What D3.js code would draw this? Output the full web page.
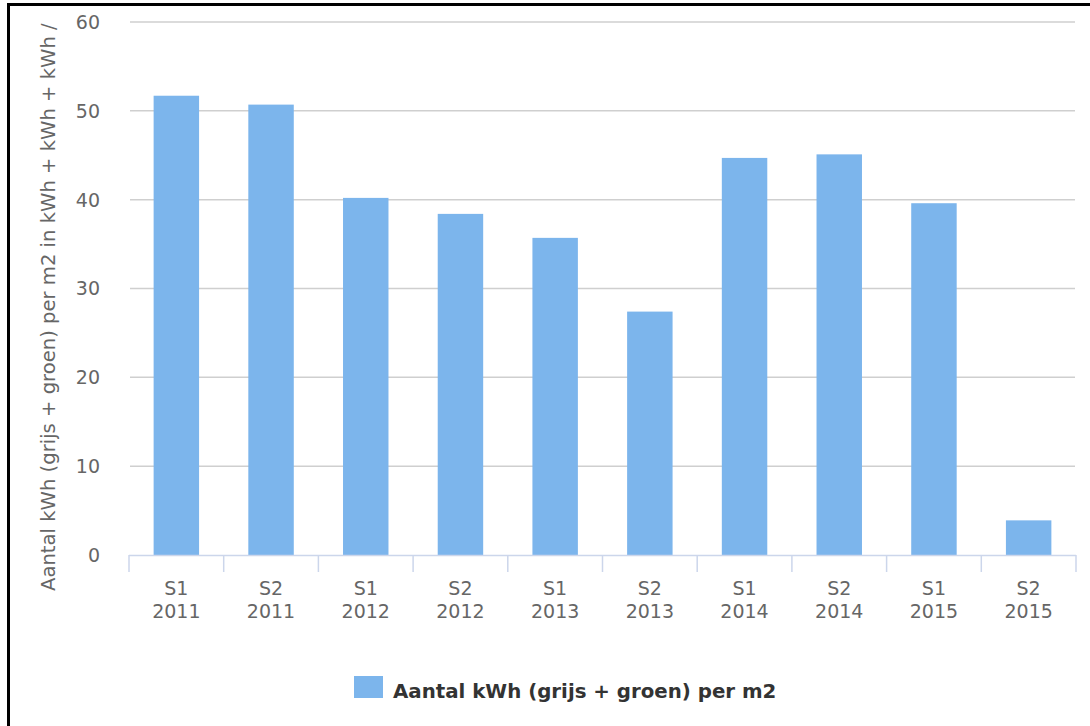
<!DOCTYPE html>
<html>
<head>
<meta charset="utf-8">
<script src="https://cdn.jsdelivr.net/npm/d3@7"></script>
<style>
  html, body { margin: 0; padding: 0; background: #fff; }
  svg { display: block; }
</style>
</head>
<body>
<div id="chart"></div>
<script>
// Half-year periods and energy use per m2
const semesters = ["S1", "S2", "S1", "S2", "S1", "S2", "S1", "S2", "S1", "S2"];
const years = ["2011", "2011", "2012", "2012", "2013", "2013", "2014", "2014", "2015", "2015"];
const kwhPerM2 = [51.7, 50.7, 40.2, 38.4, 35.7, 27.4, 44.7, 45.1, 39.6, 3.9];
const yTicks = [0, 10, 20, 30, 40, 50, 60];
const seriesName = "Aantal kWh (grijs + groen) per m2";
const yTitle = "Aantal kWh (grijs + groen) per m2 in kWh + kWh + kWh /";

const W = 1090, H = 726;
const plot = { left: 129, right: 1076, top: 22, bottom: 555 };
const font = "'DejaVu Sans', Verdana, sans-serif";

const svg = d3.select("#chart").append("svg")
  .attr("width", W).attr("height", H);

const keys = d3.range(kwhPerM2.length);
const x = d3.scaleBand().domain(keys).range([plot.left, plot.right]).padding(0);
const y = d3.scaleLinear().domain([0, 60]).range([plot.bottom, plot.top]);

// Horizontal grid
svg.append("g")
  .selectAll("line")
  .data(yTicks.filter(t => t > 0))
  .join("line")
  .attr("x1", plot.left + 1).attr("x2", plot.right - 1)
  .attr("y1", d => y(d)).attr("y2", d => y(d))
  .attr("stroke", "#cfcfcf").attr("stroke-width", 1.5);

// Y axis labels (no axis line)
const yAxis = d3.axisLeft(y).tickValues(yTicks).tickSize(0).tickPadding(0);
const yg = svg.append("g").attr("transform", `translate(${plot.left - 29},0)`).call(yAxis);
yg.select(".domain").remove();
yg.selectAll("text")
  .attr("font-family", font).attr("font-size", 19).attr("fill", "#666")
  .attr("dy", "0.34em");

// Bars
const barW = x.bandwidth() * 0.48;
svg.append("g")
  .selectAll("rect")
  .data(kwhPerM2)
  .join("rect")
  .attr("x", (d, i) => x(i) + (x.bandwidth() - barW) / 2)
  .attr("width", barW)
  .attr("y", d => y(d))
  .attr("height", d => y(0) - y(d))
  .attr("fill", "#7cb5ec");

// Category axis: line plus ticks at band boundaries
const xg = svg.append("g");
xg.append("line")
  .attr("x1", plot.left).attr("x2", plot.right)
  .attr("y1", plot.bottom + 0.5).attr("y2", plot.bottom + 0.5)
  .attr("stroke", "#ccd6eb").attr("stroke-width", 1.5);
const boundaries = keys.map(i => x(i)).concat([plot.right]);
xg.selectAll("line.tick")
  .data(boundaries)
  .join("line")
  .attr("class", "tick")
  .attr("x1", d => d).attr("x2", d => d)
  .attr("y1", plot.bottom).attr("y2", plot.bottom + 17)
  .attr("stroke", "#ccd6eb").attr("stroke-width", 1.5);

const lbl = xg.selectAll("text.cat")
  .data(keys)
  .join("text")
  .attr("class", "cat")
  .attr("text-anchor", "middle")
  .attr("font-family", font).attr("font-size", 19).attr("fill", "#666");
lbl.append("tspan")
  .attr("x", i => x(i) + x.bandwidth() / 2).attr("y", 595)
  .text(i => semesters[i]);
lbl.append("tspan")
  .attr("x", i => x(i) + x.bandwidth() / 2).attr("y", 618)
  .text(i => years[i]);

// Y axis title, running up to the frame
svg.append("text")
  .attr("transform", "translate(55,591) rotate(-90)")
  .attr("text-anchor", "start")
  .attr("font-family", font).attr("font-size", 19.6).attr("fill", "#666")
  .text(yTitle);

// Legend
const lg = svg.append("g");
lg.append("rect")
  .attr("x", 354).attr("y", 676).attr("width", 29).attr("height", 22)
  .attr("fill", "#7cb5ec");
lg.append("text")
  .attr("x", 393).attr("y", 698)
  .attr("font-family", font).attr("font-size", 19.8).attr("font-weight", "bold")
  .attr("fill", "#333")
  .text(seriesName);

// Frame: left and top edges
svg.append("path")
  .attr("d", `M8.5,${H} V4.5 H${W}`)
  .attr("fill", "none").attr("stroke", "#000").attr("stroke-width", 3);
</script>
</body>
</html>
